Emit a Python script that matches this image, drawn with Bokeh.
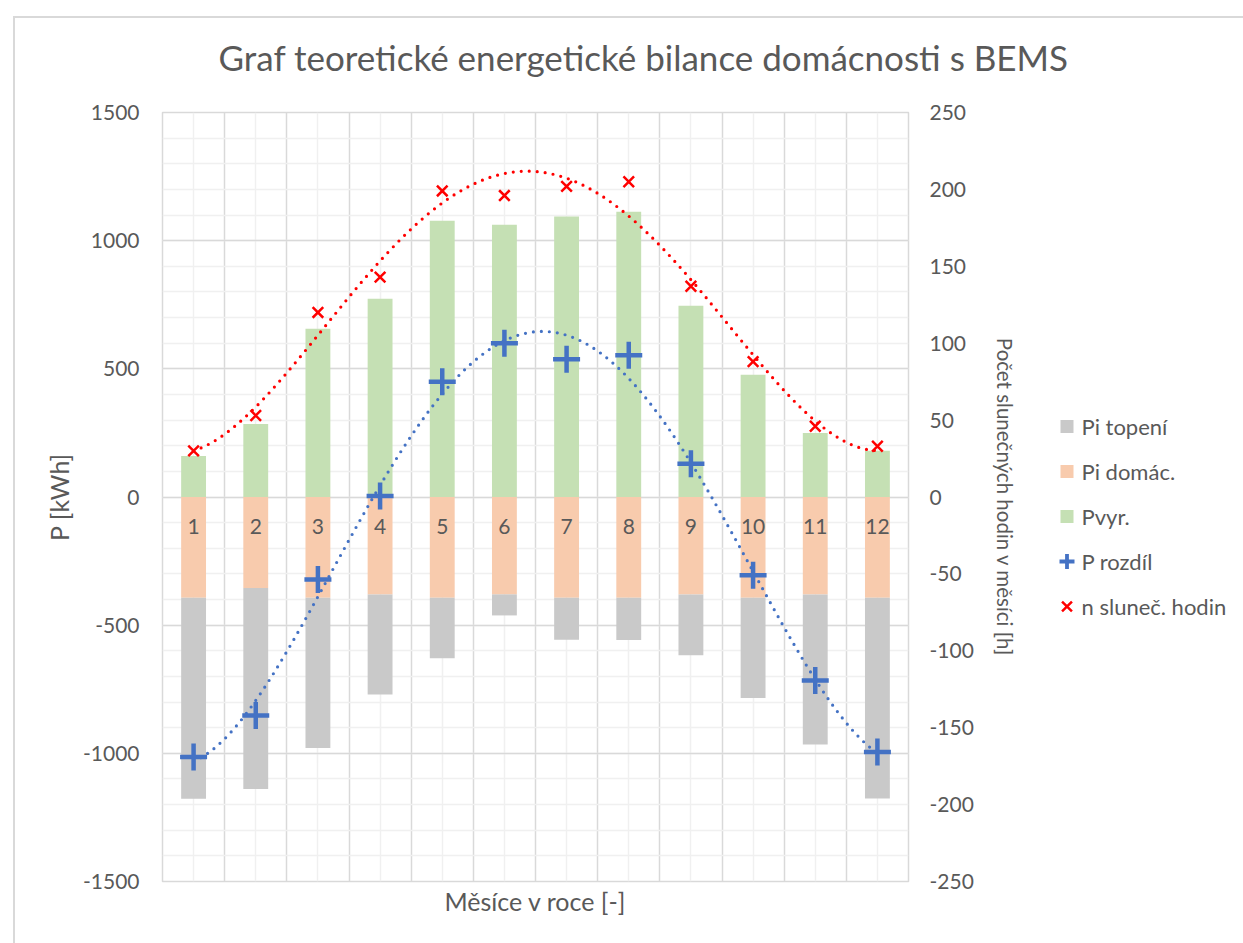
import numpy as np
from bokeh.plotting import figure
from bokeh.models import (Range1d, LinearAxis, SingleIntervalTicker, FixedTicker,
                          ColumnDataSource, PrintfTickFormatter, Div)
from bokeh.core.properties import value
from bokeh.embed import file_html
from bokeh.resources import INLINE

# ---- data ----
months = [1, 2, 3, 4, 5, 6, 7, 8, 9, 10, 11, 12]
month_labels = ["1", "2", "3", "4", "5", "6", "7", "8", "9", "10", "11", "12"]
p_vyr = [160, 285, 656, 773, 1078, 1062, 1094, 1113, 746, 477, 250, 180]
p_domac = [-393, -355, -393, -380, -393, -380, -393, -393, -380, -393, -380, -393]
p_topeni = [-784, -784, -586, -390, -236, -82, -164, -165, -237, -391, -586, -783]
p_rozdil = [-1014, -852, -322, 4, 450, 600, 537, 553, 130, -305, -716, -995]
sun_hours = [30, 53, 120, 143, 199, 196, 202, 205, 137, 88, 46, 33]
legend_labels = ["Pi topení", "Pi domác.", "Pvyr.", "P rozdíl", "n sluneč. hodin"]

FONT = "Lato"
TXT = "#595959"
C_TOP, C_DOM, C_VYR = "#c9c9c9", "#f8cbad", "#c5e0b4"
C_BLUE, C_RED = "#4472c4", "#ff0000"

# chart-area frame line (left and top edges, the rest is cropped in the picture)
frame_div = Div(text="", width=1233, height=930,
                styles={"position": "absolute", "left": "8px", "top": "11px",
                        "border-left": "2px solid #d9d9d9",
                        "border-top": "2px solid #d9d9d9"})

W, H = 1225, 942
TOP = 121
p = figure(width=W, height=H, output_backend="svg", toolbar_location=None,
           x_range=Range1d(0.5, 12.5), y_range=Range1d(-1500, 1500),
           min_border_left=152, min_border_right=W - 898,
           min_border_top=TOP, min_border_bottom=H - (TOP + 769))
p.styles = {"position": "absolute", "left": "10px", "top": "-9px"}

p.extra_y_ranges = {"sun": Range1d(-250, 250)}

# grids
p.xgrid.ticker = FixedTicker(ticks=[i + 0.5 for i in range(0, 13)],
                             minor_ticks=months)
p.xgrid.grid_line_color = "#d9d9d9"
p.xgrid.grid_line_width = 1.5
p.xgrid.minor_grid_line_color = "#f0f0f0"
p.xgrid.minor_grid_line_width = 1.5
p.ygrid.ticker = SingleIntervalTicker(interval=500, num_minor_ticks=5)
p.ygrid.grid_line_color = "#d9d9d9"
p.ygrid.grid_line_width = 1.5
p.ygrid.minor_grid_line_color = "#f0f0f0"
p.ygrid.minor_grid_line_width = 1.5
p.outline_line_color = "#d9d9d9"
p.outline_line_width = 1.5
p.background_fill_alpha = 0
p.border_fill_alpha = 0


def style_axis(ax, label_size):
    ax.axis_line_color = None
    ax.major_tick_line_color = None
    ax.minor_tick_line_color = None
    ax.major_tick_out = 0
    ax.major_tick_in = 0
    ax.major_label_text_font = FONT
    ax.major_label_text_font_size = "21px"
    ax.major_label_text_color = TXT
    ax.axis_label_text_font = FONT
    ax.axis_label_text_font_size = label_size
    ax.axis_label_text_font_style = "normal"
    ax.axis_label_text_color = TXT


# left axis
ya = p.yaxis[0]
ya.ticker = SingleIntervalTicker(interval=500)
ya.formatter = PrintfTickFormatter(format="%d")
ya.axis_label = "P [kWh]"
style_axis(ya, "25px")
ya.major_label_standoff = 19
ya.axis_label_standoff = 6

# right axis
ra = LinearAxis(y_range_name="sun", ticker=SingleIntervalTicker(interval=50),
                formatter=PrintfTickFormatter(format="%d"),
                axis_label="Počet slunečných hodin v měsíci [h]")
style_axis(ra, "20.5px")
ra.major_label_standoff = 17
ra.axis_label_standoff = 16
p.add_layout(ra, "right")

# bottom axis (title only)
xa = p.xaxis[0]
xa.ticker = FixedTicker(ticks=[])
xa.axis_label = "Měsíce v roce [-]"
style_axis(xa, "25px")
xa.major_label_standoff = 0
xa.axis_label_standoff = 4

# title
p.title.text = "Graf teoretické energetické bilance domácnosti s BEMS"
p.title.text_font = FONT
p.title.text_font_size = "35px"
p.title.text_font_style = "normal"
p.title.text_color = TXT
p.title.align = "left"
p.title.offset = 56
p.title.standoff = 70

# bars
src = ColumnDataSource(dict(x=months, p_vyr=p_vyr, p_domac=p_domac, p_topeni=p_topeni))
neg = p.vbar_stack(["p_domac", "p_topeni"], x="x", width=0.4, source=src,
                   color=[C_DOM, C_TOP], line_color=None)
pos = p.vbar(x="x", top="p_vyr", bottom=0, width=0.4, source=src,
             color=C_VYR, line_color=None)

# category labels at the zero axis
p.text(x=months, y=[0] * 12, text=month_labels, text_font=value(FONT),
       text_font_size="21px", text_color=TXT, text_align="center",
       text_baseline="top", y_offset=22)

# trendlines (polynomial fits of the data, like the spreadsheet trendlines)
xs = np.linspace(1, 12, 300)
c_sun = np.polyfit(months, sun_hours, 4)
c_diff = np.polyfit(months, p_rozdil, 4)
p.line(xs, np.polyval(c_sun, xs), y_range_name="sun", line_color=C_RED,
       line_width=3.2, line_dash="0 8", line_cap="round")
p.line(xs, np.polyval(c_diff, xs), line_color=C_BLUE,
       line_width=3.2, line_dash="0 8", line_cap="round")

# markers
p.scatter(months, p_rozdil, marker="cross", size=27, line_width=4.5,
          line_color=C_BLUE)
p.scatter(months, sun_hours, y_range_name="sun", marker="x", size=15,
          line_width=2.5, line_color=C_RED)

# ---- legend (own small overlay figure, pixel coordinates) ----
LW, LH = 190, 230
leg = figure(width=LW, height=LH, output_backend="svg", toolbar_location=None,
             x_range=Range1d(0, LW), y_range=Range1d(LH, 0),
             x_axis_type=None, y_axis_type=None, min_border=0)
leg.grid.visible = False
leg.outline_line_color = None
leg.background_fill_alpha = 0
leg.border_fill_alpha = 0
leg.styles = {"position": "absolute", "left": "1050px", "top": "399px"}

rows = [27 + 45 * i for i in range(len(legend_labels))]
gx = 16.5
leg.scatter([gx] * 3, rows[:3], marker="square", size=13,
            fill_color=[C_TOP, C_DOM, C_VYR], line_color=None)
leg.scatter([gx], [rows[3]], marker="cross", size=15, line_width=3.8,
            line_color=C_BLUE)
leg.scatter([gx], [rows[4]], marker="x", size=14, line_width=2.5,
            line_color=C_RED)
leg.text(x=[31] * len(rows), y=rows, text=legend_labels, text_font=value(FONT),
         text_font_size="22px", text_color=TXT, text_align="left",
         text_baseline="middle")

open("out.html", "w").write(file_html([frame_div, p, leg], INLINE))
